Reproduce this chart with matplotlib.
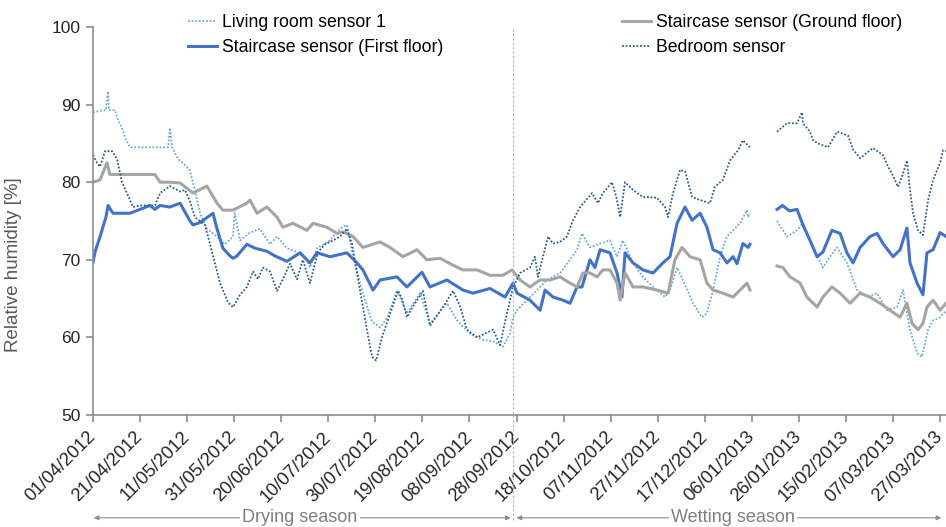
"""
Relative humidity recorded by the four indoor sensors, April 2012 - March 2013,
split into the drying and wetting seasons.
"""

import matplotlib.dates as mdates
import matplotlib.pyplot as plt
import matplotlib.transforms as mtransforms
import numpy as np
import pandas as pd

START = pd.Timestamp("2012-04-01")
SEASON_SPLIT = 178.5          # day offset of the drying/wetting boundary
GAP = np.nan                  # logger gap in January 2013

# ---- series: (day offset from START, relative humidity %) ----
living_days = [0, 3.0, 5.5, 6.4, 6.8, 9.3, 10.6, 12.3, 14.0, 15.7, 20.0, 24.2, 28.5, 31.9,
               32.7, 33.6, 36.1, 38.2, 41.2, 43.3, 45.5, 48.4, 52.7, 56.1, 59.5, 60.2, 62.5,
               66.7, 71.0, 75.2, 78.2, 82.4, 86.7, 90.9, 92.2, 95.2, 100.7, 105, 107.9, 110.1,
               114.7, 118.6, 122, 125, 129.2, 133.4, 139, 143.2, 150.4, 154.7, 160.2, 165.7,
               170, 174.2, 177.2, 178.5, 180.2, 184.4, 188.7, 192.9, 198.5, 202.7, 205.7,
               207.8, 211.2, 215.5, 219.7, 222.7, 225.2, 229.5, 233.7, 238, 243.1, 245.2,
               248.2, 250.7, 255, 258.8, 260.9, 263.5, 266.5, 269.4, 272, 275, 277.9, 278.4,
               279.2, 285, 290.7, 294.9, 299.2, 301.7, 306, 310.2, 313.2, 316.2, 320.4, 324.7,
               328.9, 333.2, 337.4, 341.7, 344.2, 347.2, 350.2, 352.3, 354.9, 357, 360, 362.5]
living_rh = [89, 89.2, 89.3, 91.7, 89.3, 89.3, 88, 87, 85.5, 84.5, 84.5, 84.5, 84.5, 84.5,
             87, 84.5, 83, 82.5, 81.5, 79, 76, 74, 73, 72, 73, 76, 72.5,
             73.5, 74, 72, 73, 71.5, 71, 70, 69, 71.5, 72.5, 74, 74.5, 71,
             65.7, 62, 61.3, 62.5, 66.1, 63.1, 65.7, 61.8, 64.4, 62.2, 60.5, 59.7,
             59.5, 58.8, 60.5, 62.6, 63.5, 64.8, 66.1, 67.4, 68.3, 70, 71.3,
             73.4, 71.6, 72.1, 72.5, 70.4, 72.5, 69.6, 67.8, 66.5, 65.2, 66.1,
             69, 67.4, 64.4, 62.6, 63.1, 66.1, 70.4, 73, 73.8, 74.7, 76.4, 75.5,
             76, GAP, 75, 73, 73.8, 74.7, 71.6, 69, 70.4, 71.6, 69.6, 66.1,
             65.2, 65.7, 63.5, 63.9, 66.1, 61, 58, 57.5, 61, 62.2, 62.6, 63.4]

first_days = [0, 0.85, 3, 5.5, 6.4, 8.5, 11.5, 15.7, 20, 24.2, 26.3, 28.5, 32.7, 37, 41.2,
              42.5, 45.5, 51, 52.7, 55.2, 58.2, 59.5, 61.2, 65.4, 68.8, 73.9, 77.3, 82.4, 88,
              92.2, 95.2, 100.7, 107.9, 112.2, 114.7, 119, 122, 129.2, 133.4, 139.8, 143.2,
              150.4, 157.2, 161.5, 168.7, 175.1, 178.5, 180.2, 185.7, 190, 192.1, 195.5,
              199.7, 202.7, 205.7, 207.8, 211.2, 213.3, 215.5, 219.7, 222.7, 224.8, 226.1,
              229.5, 233.7, 238, 242.2, 245.2, 248.2, 251.6, 254.6, 258, 260.9, 263.5, 266.5,
              269.4, 272, 273.7, 276.2, 278.4, 279.2, 285, 290.7, 293, 296, 299.2, 301.7,
              304.7, 307.7, 310.2, 314, 317.5, 320.4, 323, 326, 330.2, 333.2, 335.7, 340, 343,
              345.9, 347.2, 350.2, 352.7, 354.4, 357, 360, 362.5]
first_rh = [69.7, 71, 73, 75.5, 77, 76, 76, 76, 76.5, 77, 76.5, 77, 76.8, 77.3, 75,
            74.5, 74.8, 76, 74, 71.5, 70.5, 70.2, 70.5, 72, 71.5, 71.1, 70.5, 69.8, 70.9,
            69.6, 70.9, 70.4, 70.9, 69.6, 68.7, 66.1, 67.4, 67.8, 66.5, 68.4, 66.5,
            67.4, 66.1, 65.7, 66.3, 65.2, 67, 65.7, 64.8, 63.5, 66.1, 65.2,
            64.8, 64.4, 66.5, 66.5, 70, 69, 71.3, 70.9, 68.3, 65.2, 70.9,
            69.6, 68.7, 68.3, 69.6, 70.4, 74.7, 76.8, 75.1, 76, 74.2, 71.3, 70.9,
            69.6, 70.4, 69.5, 72.1, 71.6, 72, GAP, 76.5, 77, 76.3, 76.5, 74.5,
            72.5, 70.4, 71, 73.8, 73.4, 70.9, 69.6, 71.6, 73, 73.4, 72.1, 70.4, 71.3,
            74.1, 69.6, 67, 65.5, 70.9, 71.3, 73.5, 73]

ground_days = [0, 3, 5.9, 7.2, 13.6, 20, 26.3, 28.5, 32.7, 37, 42.5, 48.4, 52.7, 55.2, 59.5,
               65.4, 66.7, 69.7, 73.9, 78.2, 80.7, 85, 90.9, 93.5, 99.4, 103.7, 106.2, 110.5,
               114.7, 122, 126.2, 131.7, 137.7, 141.9, 147.5, 153, 157.2, 163.2, 168.7, 174.2,
               178.1, 181.5, 185.7, 190, 194.2, 198.5, 202.7, 205.7, 208.2, 211.2, 214.2,
               216.7, 219.7, 222.7, 224, 226.1, 229.5, 233.7, 239.7, 244.4, 247.3, 250.3,
               253.7, 258, 260.9, 263.5, 267.7, 272, 275, 277.9, 279.2, 285, 290.7, 293.2,
               296.2, 300.5, 303.4, 307.7, 310.2, 314, 317.5, 321.7, 326, 330.2, 334.5, 338.7,
               343, 345.9, 348.1, 350.6, 352.7, 354.4, 357, 360, 362.5]
ground_rh = [80, 80.3, 82.5, 81, 81, 81, 81, 80, 80, 79.9, 78.6, 79.5, 77.3, 76.4, 76.4,
             77.3, 77.7, 76, 76.8, 75.5, 74.2, 74.7, 73.8, 74.7, 74.2, 73.4, 73.6, 73,
             71.6, 72.3, 71.6, 70.4, 71.3, 70, 70.2, 69.3, 68.7, 68.7, 68, 68,
             68.7, 67.4, 66.5, 67.4, 67.4, 67.8, 67, 66.5, 68.3, 68.3, 67.8,
             68.7, 68.7, 67, 64.8, 68.3, 66.5, 66.5, 66.1, 65.7, 70, 71.6,
             70.4, 70, 67, 66.1, 65.7, 65.2, 66.1, 67, 66.1, GAP, 69.2, 69,
             67.8, 67, 65.2, 63.9, 65.2, 66.5, 65.7, 64.4, 65.7, 65.2, 64.4, 63.5,
             62.6, 64.4, 61.8, 61, 61.8, 63.9, 64.8, 63.5, 64.4]

bedroom_days = [0, 1.7, 3, 5.1, 8.1, 10.2, 12.3, 14.4, 17, 20, 26.3, 28.5, 32.7, 37, 39.1,
                41.2, 43.3, 47.6, 50.6, 54, 57.4, 59.5, 62.5, 65.4, 68, 70.1, 72.2, 75.2, 78.2,
                80.7, 83.7, 86.7, 89.2, 92.2, 95.6, 98.6, 102, 105, 107.9, 110.1, 113.5, 116.4,
                118.6, 120.3, 122.8, 126.2, 129.6, 131.3, 133.4, 136, 140.2, 143.2, 146.6, 150,
                153, 156, 158.9, 163.2, 166.6, 170, 173, 175.1, 178.5, 181.5, 185.7, 187.8,
                189.1, 191.2, 193.4, 195.5, 198.5, 201.4, 204, 207, 212.1, 214.6, 216.7, 220.6,
                222.7, 224, 226.1, 229.5, 233.7, 239.7, 243.1, 244.4, 246.5, 249.5, 251.6,
                254.6, 258, 262.2, 264.3, 267.7, 270.7, 274.1, 276.2, 279.2, 285, 290.7, 294.9,
                299.2, 301.3, 301.7, 304.7, 306, 308.1, 312.4, 316.2, 320.9, 323, 326, 328.9,
                331.5, 335.7, 337.9, 340, 342.1, 343.8, 345.9, 347.2, 348.5, 350.6, 352.7,
                354.9, 357, 360, 361.2, 362.5]
bedroom_rh = [83.5, 82.5, 82, 84, 84, 83, 80, 78.6, 76.8, 77, 77, 78.6, 79.5, 78.8, 79,
              77.5, 75.5, 74.5, 71, 67, 64.5, 63.9, 65.5, 66.5, 68.5, 67.5, 69, 68.5, 66,
              67.5, 69.5, 67.5, 70, 67, 71, 72, 72.5, 73, 74, 72, 66, 61,
              57.5, 57, 60, 63, 66, 65, 62.6, 64, 66, 61.5, 63, 64.5,
              66, 64, 61, 60, 60.5, 61, 59, 62, 66.5, 68.3, 69, 70.4,
              67.8, 70.4, 73, 72.1, 72.3, 73, 75.1, 76.8, 78.6, 77.3, 78.6, 80,
              77.7, 75.5, 80, 79, 78.1, 78, 76.8, 75.5, 78.6, 81.6, 81.4,
              78.1, 77.7, 77.3, 79.4, 80.3, 82.8, 84.1, 85.4, 84.5, GAP, 86.5, 87.6,
              87.6, 89, 87.6, 86.5, 85.4, 85, 84.5, 86.5, 86, 84.2, 83.1, 83.8,
              84.4, 83.5, 82, 80.8, 79.4, 80.7, 82.8, 79, 76, 73.8, 73.2,
              77.7, 80.3, 82.5, 84.1, 84]

TICK_DAYS = list(range(0, 361, 20))
X_MAX = 362.5

plt.rcParams["font.family"] = ["Liberation Sans", "DejaVu Sans"]

AXIS_GREY = "#8c8c8c"
TEXT_GREY = "#595959"


def dates(days):
    return START + pd.to_timedelta(days, unit="D")


def dnum(day):
    """Single day offset -> matplotlib date number."""
    return mdates.date2num(START + pd.Timedelta(days=day))


fig = plt.figure(figsize=(9.46, 5.27), dpi=100)
ax = fig.add_axes([93 / 946, 112 / 527, 853 / 946, 388 / 527])

ax.plot(dates(living_days), living_rh, color="#6fa8dc", lw=1.3,
        linestyle=(0, (1, 1)), label="Living room sensor 1")
ax.plot(dates(first_days), first_rh, color="#4472c4", lw=2.2,
        label="Staircase sensor (First floor)")
ax.plot(dates(ground_days), ground_rh, color="#a5a5a5", lw=2.2,
        label="Staircase sensor (Ground floor)")
ax.plot(dates(bedroom_days), bedroom_rh, color="#2e5c8a", lw=1.3,
        linestyle=(0, (1, 1)), label="Bedroom sensor")

ax.set_xlim(dnum(0), dnum(X_MAX))
ax.set_ylim(50, 100)
ax.set_yticks(range(50, 101, 10))
ax.set_xticks(dates(TICK_DAYS))
ax.set_xticklabels([d.strftime("%d/%m/%Y") for d in dates(TICK_DAYS)],
                   rotation=45, ha="right", va="center", rotation_mode="anchor")

for side in ("top", "right"):
    ax.spines[side].set_visible(False)
for side in ("left", "bottom"):
    ax.spines[side].set_color(AXIS_GREY)
    ax.spines[side].set_linewidth(1.2)
ax.tick_params(axis="both", colors=AXIS_GREY, length=5, width=1.2,
               labelcolor="#262626")
ax.tick_params(axis="y", labelsize=12.5, pad=4)
ax.tick_params(axis="x", labelsize=13.2, pad=9)

ax.set_ylabel("Relative humidity [%]", fontsize=13.5, color=TEXT_GREY)
ax.yaxis.set_label_coords(-0.083, 0.387)

# season boundary, carried down through the tick labels to the season arrows
blend = mtransforms.blended_transform_factory(ax.transData, ax.transAxes)
split = dnum(SEASON_SPLIT)
ax.plot([split, split], [-0.27, 1.0], transform=blend, clip_on=False,
        color="#b0b0b0", lw=0.8, linestyle=(0, (2, 2)))

arrow_y = -0.265
arrow_kw = dict(arrowstyle="-|>", color="#8c8c8c", lw=0.8, mutation_scale=7,
                shrinkA=0, shrinkB=0)
seasons = [("Drying season", 0.3, SEASON_SPLIT - 1.0, 88),
           ("Wetting season", SEASON_SPLIT + 1.5, 360.5, 272)]
for label, d0, d1, mid in seasons:
    for end in (d0, d1):
        ax.annotate("", xy=(dnum(end), arrow_y), xytext=(dnum(mid), arrow_y),
                    xycoords=blend, textcoords=blend, arrowprops=arrow_kw,
                    annotation_clip=False)
    ax.text(dnum(mid), arrow_y, label, transform=blend, ha="center", va="center",
            fontsize=13, color="#7f7f7f",
            family=["Liberation Sans Narrow", "Liberation Sans"],
            bbox=dict(facecolor="white", edgecolor="none", pad=1.5))

ax.legend(loc="upper left", bbox_to_anchor=(88 / 853, 1.052), ncol=2, frameon=False,
          fontsize=12.7, handlelength=1.65, handletextpad=0.3, columnspacing=10.1,
          labelspacing=0.47, borderaxespad=0)

fig.savefig("out.png", dpi=100)
